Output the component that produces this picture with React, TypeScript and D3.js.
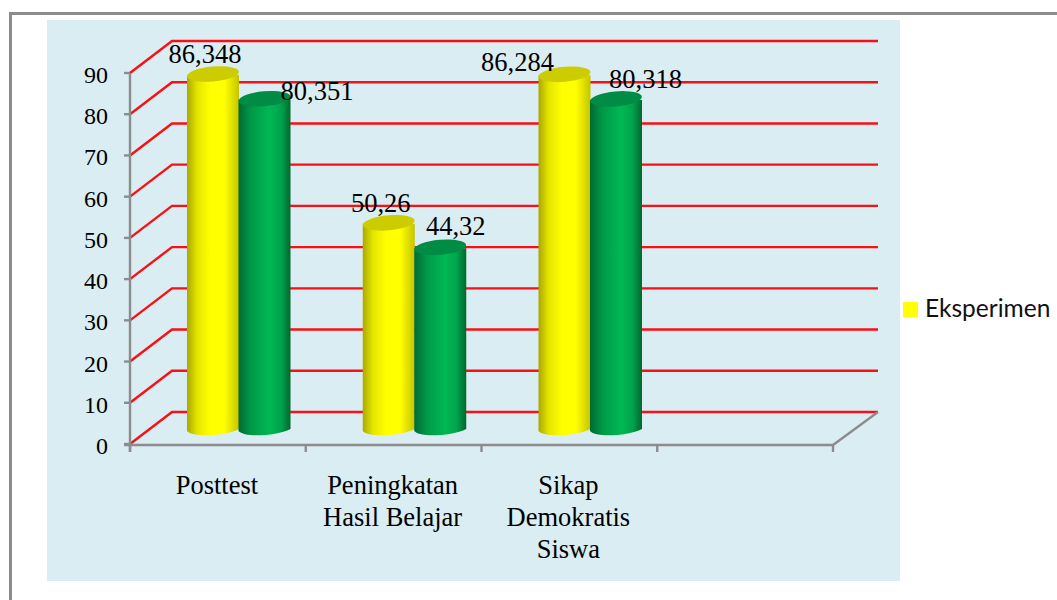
import React from "react";
import * as d3 from "d3";

const categories = ["Posttest", "Peningkatan|Hasil Belajar", "Sikap|Demokratis|Siswa", ""];
const eksperimen = [86.348, 50.26, 86.284];
const kontrol = [80.351, 44.32, 80.318];
const eksperimenLabels = ["86,348", "50,26", "86,284"];
const kontrolLabels = ["80,351", "44,32", "80,318"];
const yTicks = [0, 10, 20, 30, 40, 50, 60, 70, 80, 90];
const legendLabel = "Eksperimen";

const W = 1057, H = 600;
const serif = "'Liberation Serif', serif";
const depthX = 42, depthY = -32;
const y = d3.scaleLinear().domain([0, 90]).range([444, 73]);
const x = d3.scaleBand().domain(categories.map((c, i) => String(i))).range([130, 833]);
const barW = 52;
const barStart = 57;
const baseY = 431;
const expLabelOffset = [[18, -12], [18, -12], [-21, -4]];
const konLabelOffset = [[78, 0], [41, -13], [55, -12]];

function Cylinder({ cx, value, side, top }: { cx: number; value: number; side: string; top: string }) {
  const h = y(0) - y(value);
  const yt = baseY - h;
  const r = barW / 2;
  const body = `M${cx - r},${yt} L${cx - r},${baseY} C${cx - r + 6},${baseY + 7} ${cx + r - 14},${baseY + 5} ${cx + r},${baseY - 2} L${cx + r},${yt} Z`;
  return (
    <g>
      <path d={body} fill={`url(#${side})`} />
      <ellipse cx={cx} cy={yt - 1} rx={r} ry={7.5} transform={`rotate(-5 ${cx} ${yt - 1})`} fill={top} />
    </g>
  );
}

export default function App() {
  const bw = x.bandwidth();
  const tickXs = [0, 1, 2, 3, 4].map((i) => 130 + bw * i);
  return (
    <svg width={W} height={H} style={{ position: "absolute", left: 0, top: 0, background: "#fff" }}>
      <defs>
        <linearGradient id="gy" x1="0" x2="1" y1="0" y2="0">
          <stop offset="0" stopColor="#a9a900" />
          <stop offset="0.2" stopColor="#e6e600" />
          <stop offset="0.45" stopColor="#ffff00" />
          <stop offset="0.72" stopColor="#ffff00" />
          <stop offset="1" stopColor="#c4c400" />
        </linearGradient>
        <linearGradient id="gg" x1="0" x2="1" y1="0" y2="0">
          <stop offset="0" stopColor="#006b33" />
          <stop offset="0.25" stopColor="#009a48" />
          <stop offset="0.6" stopColor="#00b855" />
          <stop offset="0.82" stopColor="#00a24c" />
          <stop offset="1" stopColor="#00682f" />
        </linearGradient>
      </defs>
      <rect x={47} y={20} width={853} height={561} fill="#daedf3" />
      <rect x={9} y={12} width={1048} height={3} fill="#8c8c8c" />
      <rect x={9} y={12} width={3} height={588} fill="#8c8c8c" />

      {yTicks.map((t) => (
        <path key={t} d={`M130,${y(t)} L${130 + depthX},${y(t) + depthY} L878,${y(t) + depthY}`} fill="none" stroke="#fa0f14" strokeWidth={2.4} />
      ))}

      <g stroke="#8c8c8c" strokeWidth={2.4} fill="none">
        <line x1={130} x2={130} y1={y(90)} y2={452} />
        {yTicks.map((t) => <line key={t} x1={124} x2={130} y1={y(t)} y2={y(t)} />)}
        <line x1={124} x2={833} y1={y(0) + 1} y2={y(0) + 1} />
        {tickXs.map((v, i) => <line key={i} x1={v} x2={v} y1={444} y2={452} />)}
        <line x1={833} x2={878} y1={445} y2={412} />
      </g>

      {eksperimen.map((v, i) => {
        const x0 = x(String(i))! + barStart;
        return (
          <g key={i}>
            <Cylinder cx={x0 + barW / 2} value={v} side="gy" top="#cccc00" />
            <Cylinder cx={x0 + barW * 1.5 - 0.5} value={kontrol[i]} side="gg" top="#008c44" />
          </g>
        );
      })}

      <g fontFamily={serif} fontSize={26.5} fill="#000" textAnchor="middle">
        {eksperimen.map((v, i) => {
          const x0 = x(String(i))! + barStart;
          return <text key={i} x={x0 + expLabelOffset[i][0]} y={y(v) + expLabelOffset[i][1] - 13}>{eksperimenLabels[i]}</text>;
        })}
        {kontrol.map((v, i) => {
          const x0 = x(String(i))! + barStart;
          return <text key={i} x={x0 + barW + konLabelOffset[i][0]} y={y(v) + konLabelOffset[i][1] - 13}>{kontrolLabels[i]}</text>;
        })}
      </g>

      <g fontFamily={serif} fontSize={24} fill="#000" textAnchor="end">
        {yTicks.map((t) => <text key={t} x={108} y={y(t) + 10}>{t}</text>)}
      </g>

      <g fontFamily={serif} fontSize={26.5} fill="#000" textAnchor="middle">
        {categories.map((c, i) => c && c.split("|").map((line, j) => (
          <text key={j} x={x(String(i))! + bw / 2 - 1} y={494 + j * 32}>{line}</text>
        )))}
      </g>

      <rect x={903} y={302} width={15} height={15} fill="#ffff00" />
      <text x={925} y={317} fontFamily="Lato, sans-serif" fontSize={24.5} fill="#111">{legendLabel}</text>
    </svg>
  );
}
